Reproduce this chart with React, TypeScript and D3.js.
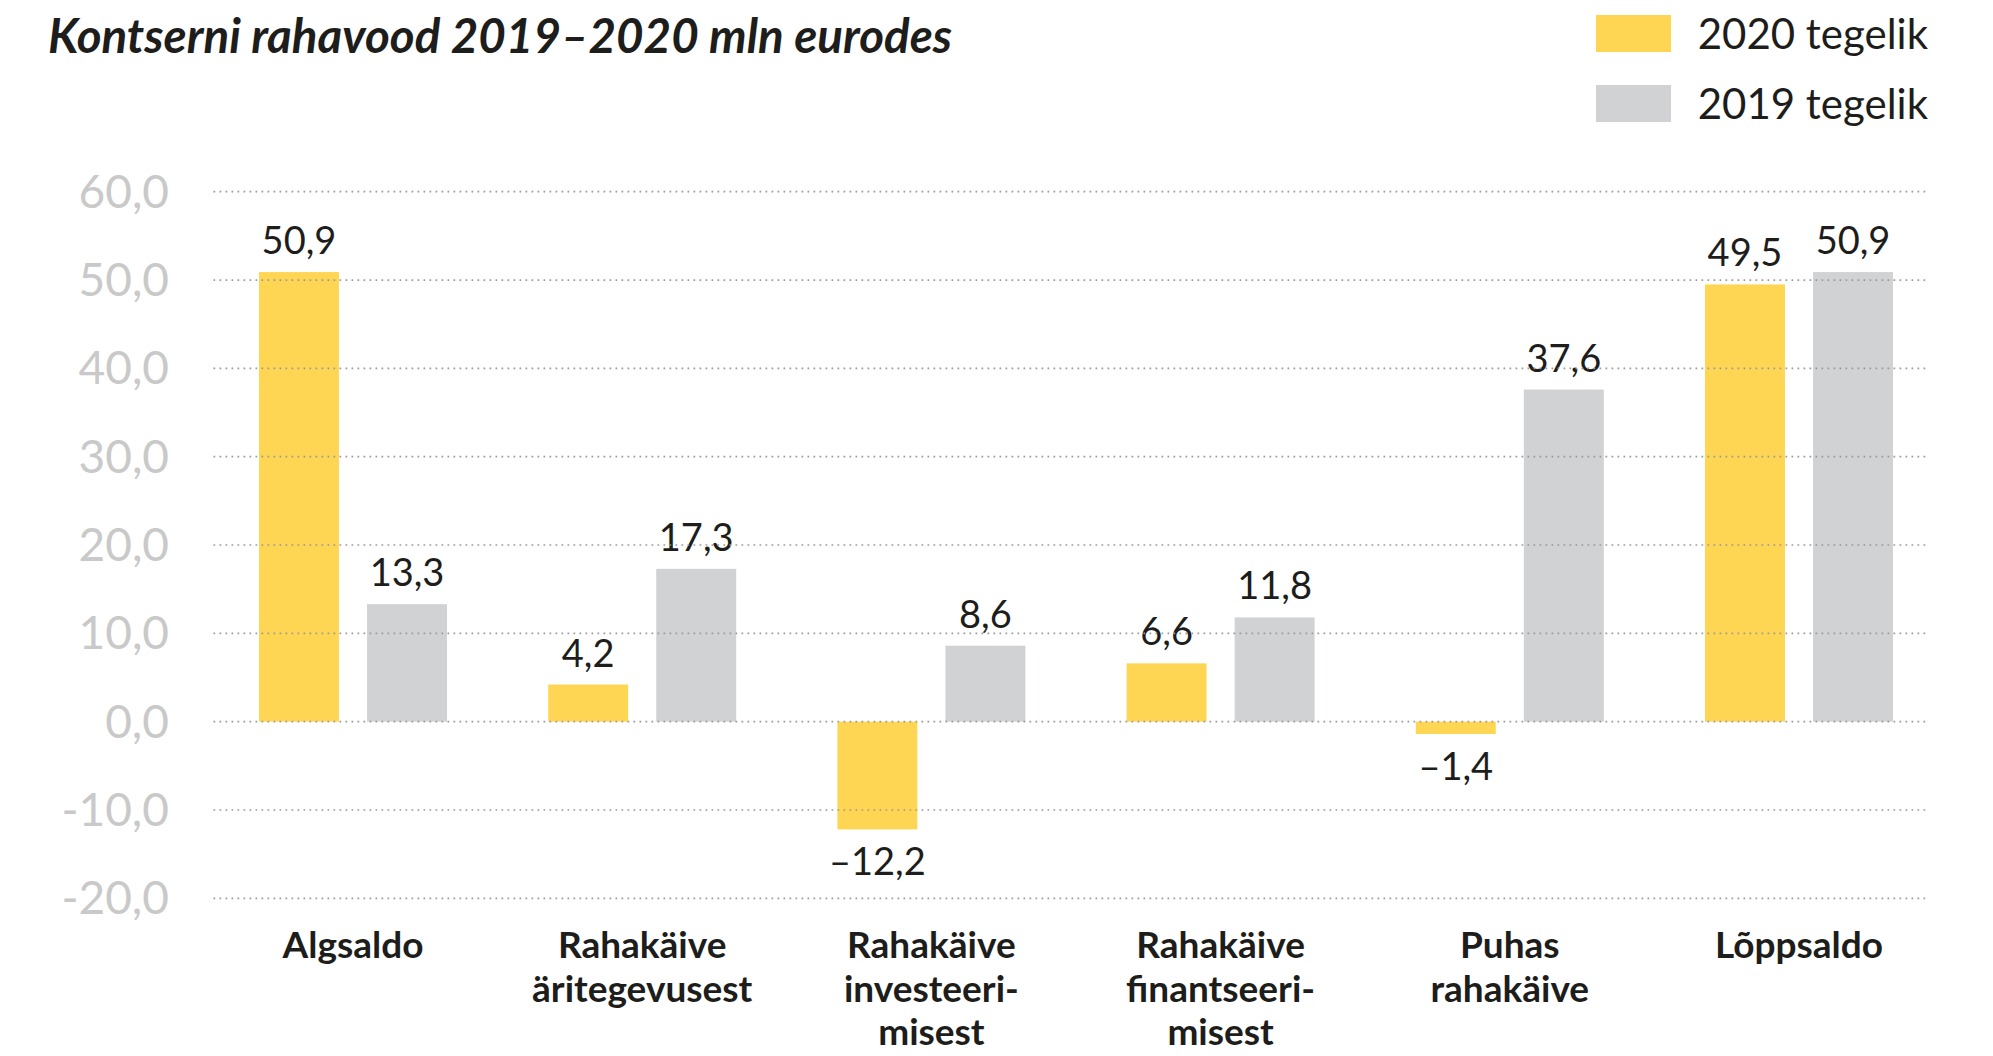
import React, { useEffect, useRef } from 'react';
import * as d3 from 'd3';

// chart data
const categories = [
  'Algsaldo',
  'Rahakäive|äritegevusest',
  'Rahakäive|investeeri-|misest',
  'Rahakäive|finantseeri-|misest',
  'Puhas|rahakäive',
  'Lõppsaldo',
];
const series = ['2020 tegelik', '2019 tegelik'];
const values2020 = [50.9, 4.2, -12.2, 6.6, -1.4, 49.5];
const values2019 = [13.3, 17.3, 8.6, 11.8, 37.6, 50.9];
const yTicks = [-20, -10, 0, 10, 20, 30, 40, 50, 60];

const title = 'Kontserni rahavood 2019–2020 mln eurodes';

export default function App() {
  const ref = useRef<SVGSVGElement>(null);

  useEffect(() => {
    const width = 1993;
    const height = 1056;
    const left = 213.5;
    const right = 1929;
    const colors = ['#fed654', '#d1d2d4'];
    const font = 'Lato, "Open Sans", sans-serif';

    const svg = d3.select(ref.current);
    svg.selectAll('*').remove();
    svg.attr('width', width).attr('height', height);

    const valueFmt = d3.formatLocale({ decimal: ',', thousands: ' ', grouping: [3], currency: ['', ''], minus: '–' }).format('.1f');
    const tickFmt = d3.formatLocale({ decimal: ',', thousands: ' ', grouping: [3], currency: ['', ''], minus: '-' }).format('.1f');

    // groups span from first bar to last bar
    const x0 = d3.scaleBand<number>()
      .domain(d3.range(categories.length))
      .range([259, 1893])
      .paddingInner(0.35)
      .paddingOuter(0);

    const x1 = d3.scaleBand<string>()
      .domain(series)
      .range([0, x0.bandwidth()])
      .paddingInner(0.26);

    const y = d3.scaleLinear().domain([-20, 60]).range([898.3, 191.7]);

    // title
    svg.append('text')
      .attr('x', 48).attr('y', 53)
      .attr('font-family', font)
      .attr('font-style', 'italic')
      .attr('font-weight', 700)
      .attr('font-size', 47.5)
      .attr('fill', '#1d1d1b')
      .text(title);

    // legend
    const legend = svg.append('g');
    series.forEach((s, i) => {
      legend.append('rect')
        .attr('x', 1596).attr('y', 15 + i * 70)
        .attr('width', 75).attr('height', 37)
        .attr('fill', colors[i]);
      legend.append('text')
        .attr('x', 1928).attr('y', 49 + i * 70)
        .attr('text-anchor', 'end')
        .attr('font-family', font)
        .attr('font-size', 42)
        .attr('fill', '#1d1d1b')
        .text(s);
    });

    // y tick labels
    svg.append('g').selectAll('text').data(yTicks).enter()
      .append('text')
      .attr('x', 169)
      .attr('y', d => y(d) + 16)
      .attr('text-anchor', 'end')
      .attr('font-family', font)
      .attr('font-size', 46)
      .attr('fill', '#c9c9c9')
      .text(d => tickFmt(d));

    // bars
    const data = categories.map((c, i) => ({ i, vals: [values2020[i], values2019[i]] }));
    const groups = svg.append('g').selectAll('g').data(data).enter()
      .append('g')
      .attr('transform', d => 'translate(' + x0(d.i) + ',0)');

    groups.selectAll('rect').data(d => d.vals.map((v, k) => ({ v, k }))).enter()
      .append('rect')
      .attr('x', d => x1(series[d.k])!)
      .attr('width', x1.bandwidth())
      .attr('y', d => y(Math.max(0, d.v)))
      .attr('height', d => Math.abs(y(d.v) - y(0)))
      .attr('fill', d => colors[d.k]);

    // gridlines over the bars
    svg.append('g').selectAll('line').data(yTicks).enter()
      .append('line')
      .attr('x1', left).attr('x2', right)
      .attr('y1', d => y(d)).attr('y2', d => y(d))
      .attr('stroke', '#999999')
      .attr('stroke-width', 1.7)
      .attr('stroke-dasharray', '1.7 4.3');

    // value labels
    groups.selectAll('text').data(d => d.vals.map((v, k) => ({ v, k }))).enter()
      .append('text')
      .attr('x', d => x1(series[d.k])! + x1.bandwidth() / 2)
      .attr('y', d => d.v >= 0 ? y(d.v) - 18 : y(d.v) + 46)
      .attr('text-anchor', 'middle')
      .attr('font-family', font)
      .attr('font-size', 38)
      .attr('fill', '#1d1d1b')
      .text(d => valueFmt(d.v));

    // category labels
    const cat = svg.append('g').selectAll('text').data(categories).enter()
      .append('text')
      .attr('x', (d, i) => x0(i)! + x0.bandwidth() / 2)
      .attr('y', 958)
      .attr('text-anchor', 'middle')
      .attr('font-family', font)
      .attr('font-weight', 700)
      .attr('font-size', 37)
      .attr('fill', '#1d1d1b');
    cat.each(function (d) {
      const t = d3.select(this);
      const xx = t.attr('x');
      d.split('|').forEach((line, j) => {
        t.append('tspan').attr('x', xx).attr('dy', j === 0 ? 0 : 43.5).text(line);
      });
    });
  }, []);

  return <svg ref={ref} style={{ position: 'absolute', left: 0, top: 0, display: 'block' }} />;
}
